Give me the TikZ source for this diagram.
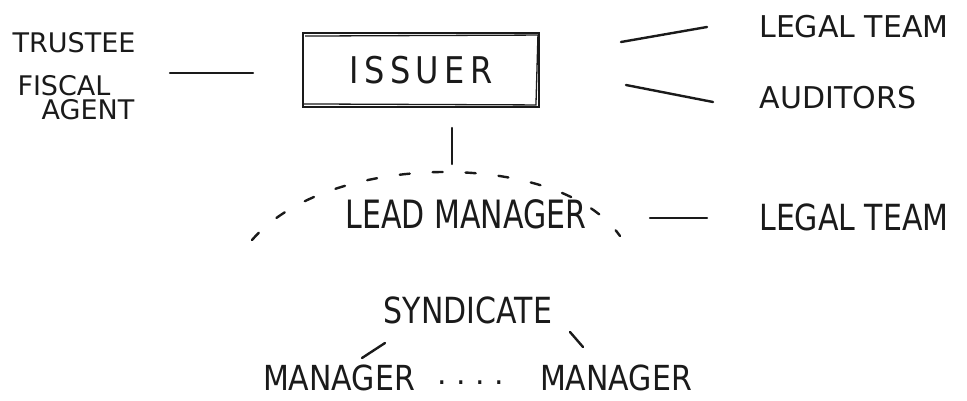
\documentclass[tikz,border=0pt]{standalone}
\usepackage{fontspec}
\setmainfont{DejaVu Sans}
\definecolor{ink}{HTML}{1A1A1A}
\newcommand\vstretch[2]{\scalebox{1}[#1]{#2}}
\begin{document}
\begin{tikzpicture}[x=1pt,y=-1pt,
  lbl/.style={font=\fontsize{30}{36}\selectfont, inner sep=0pt, text=ink},
  slbl/.style={font=\fontsize{27}{32}\selectfont, inner sep=0pt, text=ink},
  ln/.style={line width=2.4pt, draw=ink, line cap=round},
  boxst/.style={draw=ink, line width=1.9pt, minimum width=236pt, minimum height=74pt, inner sep=0pt}
]
\useasboundingbox (0,0) rectangle (967,401);
% left labels
\node[slbl] (trustee) at (74,43) {TRUSTEE};
\node[slbl] (fiscal) at (64,86) {FISCAL};
\node[slbl] (agent) at (88,110) {AGENT};
% issuer
\node[boxst, font=\fontsize{32}{38}\selectfont, text=ink] (issuer) at (421,70) {\vstretch{1.15}{I\,S\,S\,U\,E\,R}};
\draw[draw=ink, line width=1.3pt] ([shift={(3,4)}]issuer.north west) -- ([shift={(-2,3)}]issuer.north east) -- ([shift={(-4,-3)}]issuer.south east) -- ([shift={(2,-4)}]issuer.south west);
% right labels
\node[lbl] (legal1) at (854,27) {LEGAL TEAM};
\node[lbl] (auditors) at (838,98) {AUDITORS};
% connector coordinates
\coordinate (la) at (170,73); \coordinate (lb) at (253,73);
\coordinate (ra1) at (621,42); \coordinate (rb1) at (707,27);
\coordinate (ra2) at (626,85); \coordinate (rb2) at (713,102);
\coordinate (va) at (452,128); \coordinate (vb) at (452,164);
\draw[ln] (la) -- (lb);
\draw[ln] (ra1) -- (rb1);
\draw[ln] (ra2) -- (rb2);
\draw[ln] (va) -- (vb);
% lead manager
\node[lbl] (lead) at (466,214) {\vstretch{1.3}{LEAD MANAGER}};
\node[lbl] (legal2) at (854,217) {\vstretch{1.2}{LEGAL TEAM}};
\coordinate (arcL) at (252,240); \coordinate (arcR) at (620,236);
\draw[ln, dash pattern=on 10pt off 23pt] (arcL) .. controls (330,150) and (560,150) .. (arcR);
\coordinate (ma) at (650,218); \coordinate (mb) at (707,218);
\draw[ln] (ma) -- (mb);
% syndicate
\node[lbl] (synd) at (468,310) {\vstretch{1.2}{SYNDICATE}};
\node[lbl] (mgr1) at (339,378) {\vstretch{1.15}{MANAGER}};
\node[lbl] (dots) at (471,383) {.\ .\ .\ .};
\node[lbl] (mgr2) at (616,378) {\vstretch{1.15}{MANAGER}};
\coordinate (sa1) at (385,343); \coordinate (sb1) at (362,358);
\coordinate (sa2) at (570,332); \coordinate (sb2) at (583,347);
\draw[ln] (sa1) -- (sb1);
\draw[ln] (sa2) -- (sb2);
\end{tikzpicture}
\end{document}
